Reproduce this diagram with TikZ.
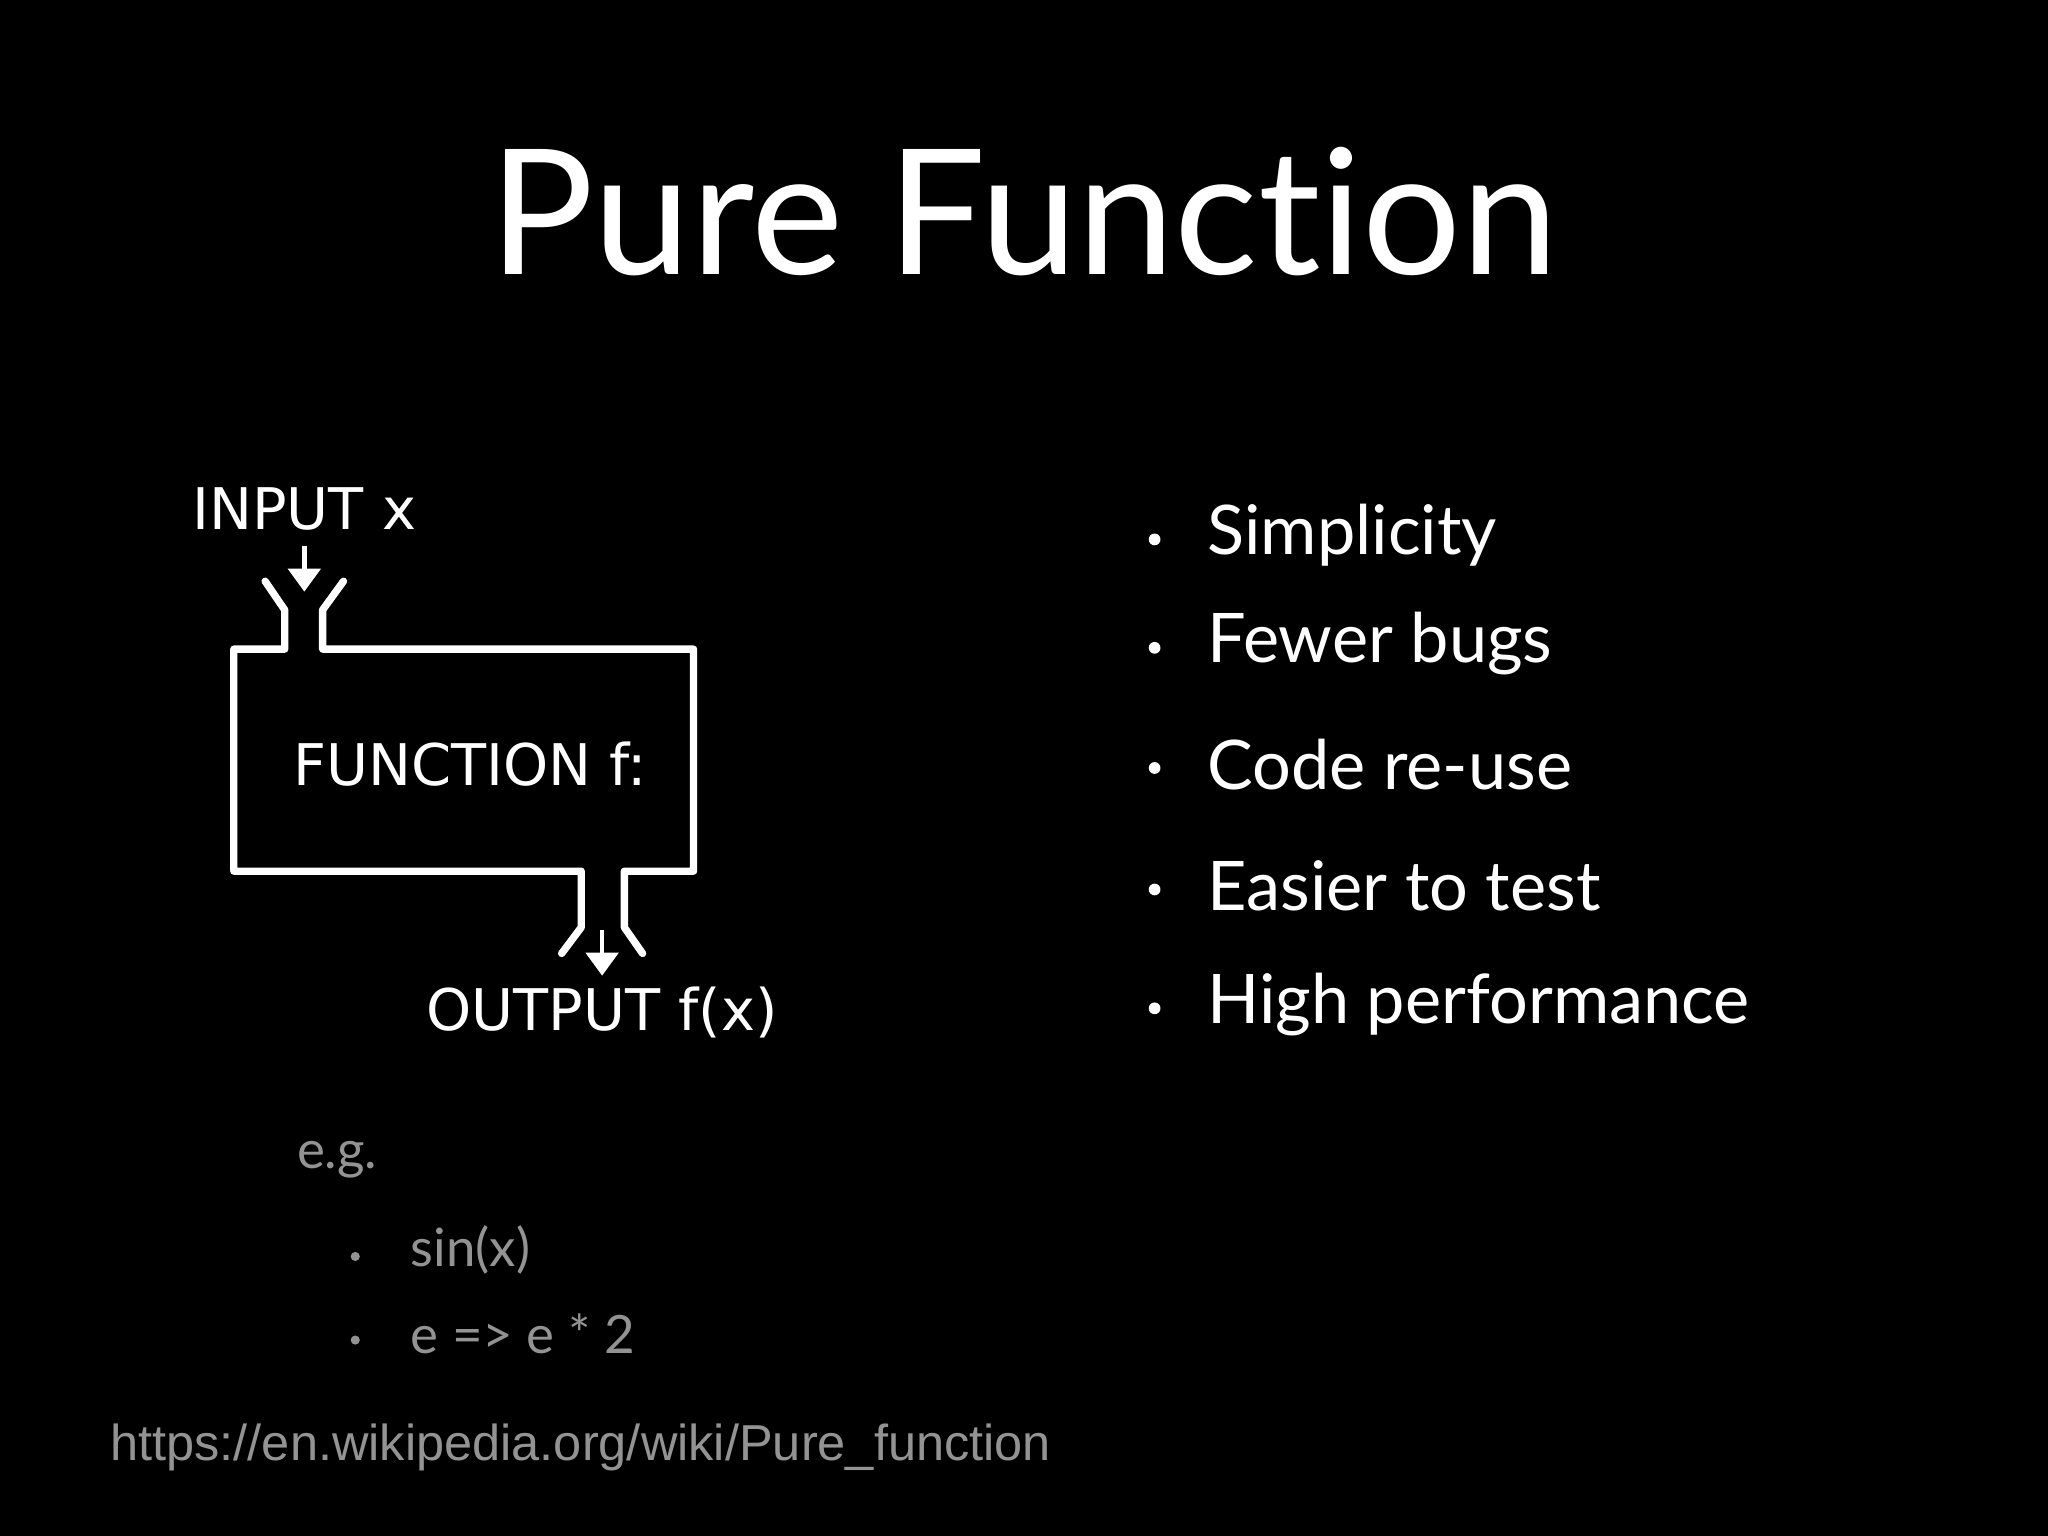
\documentclass[tikz,border=0pt]{standalone}
\usepackage{fontspec}
\setmainfont[Ligatures=NoCommon]{Lato}
\newfontfamily\diag{DejaVu Sans}
\newfontfamily\url{Liberation Sans}
\usetikzlibrary{arrows.meta}
\begin{document}
\begin{tikzpicture}[x=0.01cm,y=-0.01cm,
  pipe/.style={draw=white,line width=1.6pt,line join=round,line cap=round},
  arr/.style={draw=white,line width=1pt,-{Triangle[length=5pt,width=7pt]}},
  dlab/.style={text=white,font=\diag\fontsize{12.5}{15}\selectfont},
  bul/.style={text=white,anchor=west,font=\fontsize{14.9}{18}\selectfont},
  sub/.style={text=gray!85,anchor=west,font=\fontsize{11.5}{14}\selectfont}]
\fill[black] (0,0) rectangle (1568,1176);
\node[text=white,font=\fontsize{38}{44}\selectfont] (title) at (784,162) {Pure Function};
% function box
\draw[pipe] (203,445) -- (218,467) -- (218,497) -- (179,497) -- (179,667) -- (445,667) -- (445,710) -- (430,730);
\draw[pipe] (263,445) -- (247,467) -- (247,497) -- (531,497) -- (531,667) -- (478,667) -- (478,710) -- (492,730);
\node[dlab] (in) at (233,390) {INPUT x};
\node[dlab] (fn) at (360,585) {FUNCTION f:};
\node[dlab] (out) at (461,775) {OUTPUT f(x)};
\coordinate (ia) at (233,418); \coordinate (ib) at (233,453);
\coordinate (oa) at (461,712); \coordinate (ob) at (461,747);
\draw[arr] (ia) -- (ib);
\draw[arr] (oa) -- (ob);
% examples
\node[sub] (eg) at (215,888) {e.g.};
\foreach \t/\y/\n in {sin(x)/957/s1,e => e * 2/1021/s2}{
  \fill[gray!85] (272,\y+5) circle (3.5);
  \node[sub] (\n) at (302,\y) {\t};}
\node[text=gray!85,anchor=west,font=\url\fontsize{11}{14}\selectfont] (u) at (72,1108) {https://en.wikipedia.org/wiki/Pure\_function};
% bullets
\foreach \t/\y in {Simplicity/410,Fewer bugs/493,Code re-use/585,Easier to test/678,High performance/769}{
  \fill[white] (884,\y+3) circle (4.5);
  \node[bul] at (912,\y) {\t};}
\end{tikzpicture}
\end{document}
